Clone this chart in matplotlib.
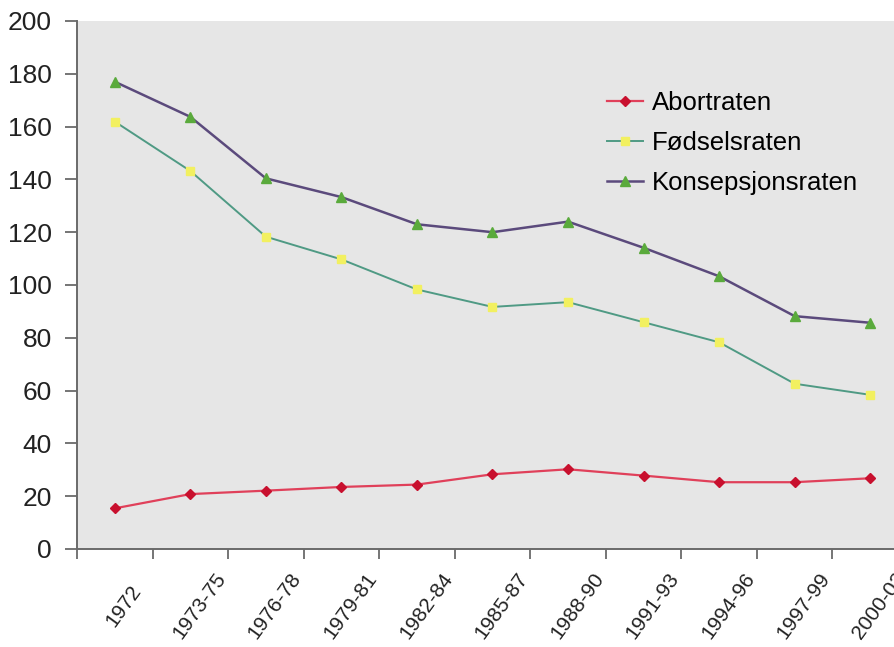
import numpy as np
import matplotlib
matplotlib.use("Agg")
import matplotlib.pyplot as plt
from matplotlib.transforms import ScaledTranslation

plt.rcParams['font.family'] = ['Liberation Sans', 'DejaVu Sans']

# Rates per 1000 women, by period
periods = ["1972", "1973-75", "1976-78", "1979-81", "1982-84", "1985-87",
           "1988-90", "1991-93", "1994-96", "1997-99", "2000-02"]
abort = [15.4, 20.8, 22.1, 23.5, 24.4, 28.3, 30.2, 27.8, 25.3, 25.3, 26.8]
fodsel = [161.9, 143.2, 118.3, 109.7, 98.3, 91.7, 93.5, 85.9, 78.3, 62.6, 58.4]
konsepsjon = [177.0, 163.7, 140.4, 133.3, 123.0, 120.0, 124.0, 114.1, 103.3, 88.2, 85.7]

W, H = 895, 647
fig = plt.figure(figsize=(W / 100, H / 100), dpi=100)
ax = fig.add_axes([77 / W, (H - 549) / H, (908 - 77) / W, 528 / H])
ax.set_facecolor('#e6e6e6')

x = np.arange(len(periods))
ax.plot(x, abort, color='#e0405a', lw=1.6, marker='D', ms=5.5,
        mfc='#c8102e', mec='#c8102e', label='Abortraten', zorder=3)
ax.plot(x, fodsel, color='#4f9a84', lw=1.4, marker='s', ms=5.5,
        mfc='#f2f060', mec='#f2f060', label='Fødselsraten', zorder=3)
ax.plot(x, konsepsjon, color='#5b4a7c', lw=1.8, marker='^', ms=7.5,
        mfc='#5aaa3c', mec='#5aaa3c', label='Konsepsjonsraten', zorder=3)

ax.set_xlim(-0.5, len(periods) - 0.5)
ax.set_ylim(0, 200)
ax.set_yticks(np.arange(0, 201, 20))

# category boundaries carry the ticks, labels sit at the centres
ax.set_xticks(np.arange(-0.5, len(periods), 1.0))
ax.set_xticklabels([])
ax.set_xticks(x, labels=periods, minor=True)
ax.tick_params(axis='x', which='minor', length=0, pad=41, labelsize=15, colors='#222222')
for lbl in ax.get_xticklabels(minor=True):
    lbl.set_rotation(54)
    lbl.set_ha('center')
    lbl.set_va('center')
    lbl.set_rotation_mode('anchor')
    lbl.set_transform(lbl.get_transform() + ScaledTranslation(9 / 100, 0, fig.dpi_scale_trans))

ax.tick_params(axis='x', which='major', direction='out', length=7, width=1.3, color='#6a6a6a')
ax.tick_params(axis='y', direction='out', length=9, width=1.3, color='#6a6a6a',
               pad=9, labelsize=19, labelcolor='#222222')

for side in ['top', 'right']:
    ax.spines[side].set_visible(False)
for side in ['left', 'bottom']:
    ax.spines[side].set_color('#6a6a6a')
    ax.spines[side].set_linewidth(1.4)

ax.legend(loc='upper left', bbox_to_anchor=(607 / W, 1 - 91 / H),
          bbox_transform=fig.transFigure, frameon=False, fontsize=18.5,
          handlelength=1.4, handletextpad=0.35, labelspacing=0.62,
          borderpad=0, borderaxespad=0)

fig.savefig('out.png', dpi=100)
